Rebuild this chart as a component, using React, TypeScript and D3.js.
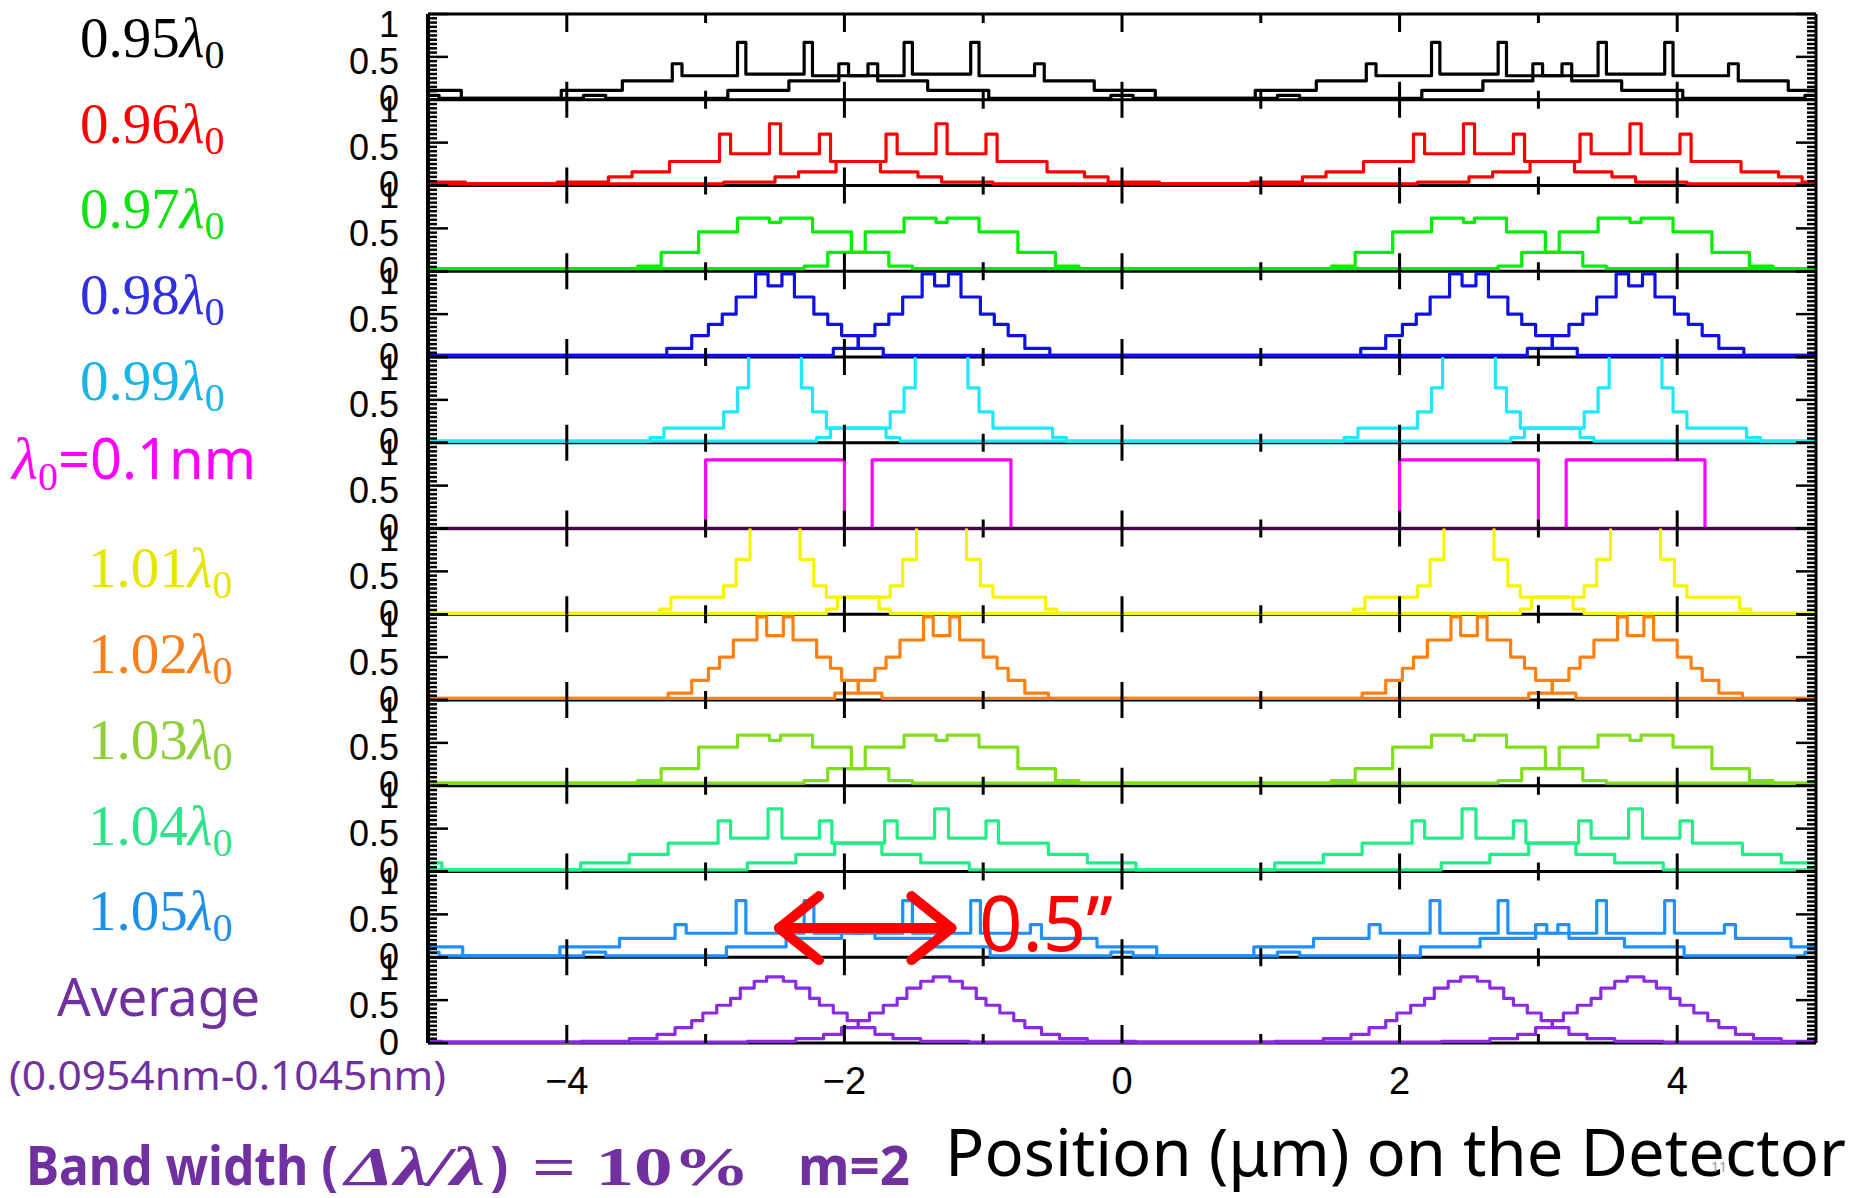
import React from "react";
import * as d3 from "d3";

// half profiles of one slit image: [outer edge of step (um from slit centre), level]
const prof095 = [[0.21, 0.3], [0.27, 0.67], [0.67, 0.28], [0.74, 0.42], [1.1, 0.22], [1.54, 0.11], [2.42, 0.015], [2.5, 0.05]];
const prof096 = [[0.04, 0.72], [0.32, 0.37], [0.4, 0.6], [0.76, 0.28], [1.03, 0.16], [1.2, 0.1], [1.57, 0.04], [2.5, 0.02]];
const prof097 = [[0.04, 0.57], [0.27, 0.62], [0.55, 0.46], [0.82, 0.22], [0.99, 0.06], [2.5, 0.03]];
const prof098 = [[0.05, 0.83], [0.14, 0.97], [0.28, 0.7], [0.38, 0.5], [0.48, 0.38], [0.6, 0.25], [0.78, 0.1], [2.5, 0.02]];
const prof099 = [[0.19, 1.5], [0.27, 0.64], [0.37, 0.36], [0.8, 0.17], [0.9, 0.06], [2.5, 0.02]];
const prof100 = [[0.5, 0.8], [2.5, 0.0]];
const prof101 = [[0.18, 1.5], [0.28, 0.64], [0.37, 0.33], [0.75, 0.2], [0.83, 0.06], [2.5, 0.01]];
const prof102 = [[0.06, 0.75], [0.13, 0.97], [0.3, 0.7], [0.4, 0.5], [0.48, 0.37], [0.6, 0.23], [0.77, 0.08], [2.5, 0.02]];
const prof103 = [[0.04, 0.53], [0.27, 0.59], [0.55, 0.45], [0.82, 0.2], [0.99, 0.06], [2.5, 0.03]];
const prof104 = [[0.05, 0.73], [0.32, 0.39], [0.41, 0.59], [0.77, 0.33], [1.05, 0.2], [1.4, 0.1], [2.5, 0.02]];
const prof105 = [[0.21, 0.28], [0.28, 0.66], [0.64, 0.28], [0.72, 0.38], [1.12, 0.22], [1.55, 0.12], [2.42, 0.015], [2.5, 0.06]];
const profAvg = [[0.06, 0.77], [0.15, 0.72], [0.25, 0.64], [0.32, 0.52], [0.42, 0.44], [0.52, 0.35], [0.6, 0.26], [0.72, 0.18], [0.85, 0.1], [1.05, 0.05], [1.4, 0.02], [2.5, 0.01]];

const profiles = [prof095, prof096, prof097, prof098, prof099, prof100, prof101, prof102, prof103, prof104, prof105, profAvg];
const lineColors = ["#000000", "#ff0000", "#00ee00", "#1010e6", "#1ee8fa", "#ff00ff", "#f5f500", "#ff8010", "#80e018", "#22ee88", "#1e90ff", "#8a2be2"];

// slit image centres (period 5 um)
const slitA = [-7.5, -2.5, 2.5, 7.5];
const slitB = [-6.3, -1.3, 3.7, 8.7];

const lamCoefs = ["0.95", "0.96", "0.97", "0.98", "0.99"];
const lamCoefs2 = ["1.01", "1.02", "1.03", "1.04", "1.05"];
const labelColors1 = ["#000000", "#ff0000", "#11e011", "#3030dd", "#19b4e8"];
const labelColors2 = ["#e6e600", "#f5801e", "#8fcf3c", "#2de38a", "#1e8fe6"];

const xTickLabels = [-4, -2, 0, 2, 4];
const xMinor = [-4, -3, -2, -1, 0, 1, 2, 3, 4];
const yTickLabels = [0, 0.5, 1];

const W = 1853, H = 1198;
const left = 428, right = 1816, top = 14, panelH = 85.75;
const nPanels = profiles.length;

function stepPoints(prof: number[][], centres: number[]) {
  const segs: number[][] = [];
  centres.forEach((c) => {
    let d0 = 0;
    prof.forEach(([d1, v]) => {
      segs.push([c - d1, c - d0, v]);
      segs.push([c + d0, c + d1, v]);
      d0 = d1;
    });
  });
  segs.sort((a, b) => a[0] - b[0]);
  const pts: number[][] = [];
  segs.forEach(([a, b, v]) => {
    const lo = Math.max(a, -5), hi = Math.min(b, 5);
    if (hi <= lo) return;
    pts.push([lo, v], [hi, v]);
  });
  return pts;
}

const serif = "'Liberation Serif', 'DejaVu Serif', serif";
const sans = "'Noto Sans', 'Open Sans', sans-serif";
const helv = "'Liberation Sans', Arial, sans-serif";

function LamLabel({ coef, color, x, y }: any) {
  return (
    <text x={x} y={y} fill={color} fontFamily={serif} fontSize={57}>
      {coef}
      <tspan fontStyle="italic">λ</tspan>
      <tspan fontSize={40} dy={11}>0</tspan>
    </text>
  );
}

// small vertical nudges of the IDL-style tick labels
const labelShift: Record<string, number> = { "0": -1, "0.5": 5, "1": 10 };

export default function App() {
  const x = d3.scaleLinear().domain([-5, 5]).range([left, right]);
  const yTicksAll = d3.range(0, 1.0001, 0.05);

  const panels = profiles.map((prof, i) => {
    const y = d3.scaleLinear().domain([0, 1]).range([top + (i + 1) * panelH, top + i * panelH]);
    const line = d3.line<number[]>().x((d) => x(d[0])).y((d) => y(d[1]));
    const pa = stepPoints(prof, slitA);
    const pb = stepPoints(prof, slitB);
    const y0 = y(0), y1 = y(1);
    return (
      <g key={i}>
        <clipPath id={`clip${i}`}>
          <rect x={left} y={y1} width={right - left} height={y0 - y1 + 2} />
        </clipPath>
        <line x1={left} x2={right} y1={y0} y2={y0} stroke="#000" strokeWidth={3} />
        <g clipPath={`url(#clip${i})`}>
          <path d={line(pb) || ""} fill="none" stroke={lineColors[i]} strokeWidth={3.2} strokeLinejoin="round" />
          <path d={line(pa) || ""} fill="none" stroke={lineColors[i]} strokeWidth={3.2} strokeLinejoin="round" />
        </g>
        {i === 5 && <line x1={left} x2={right} y1={y0} y2={y0} stroke="#000" strokeOpacity={0.7} strokeWidth={3.4} />}
        {yTicksAll.map((v, k) => {
          const major = k % 10 === 0;
          const len = major ? 20 : 9;
          return (
            <g key={k}>
              <line x1={left} x2={left + len} y1={y(v)} y2={y(v)} stroke="#000" strokeWidth={2.5} />
              <line x1={right} x2={right - len} y1={y(v)} y2={y(v)} stroke="#000" strokeWidth={2.5} />
            </g>
          );
        })}
        {xMinor.map((t) => {
          const len = t % 2 === 0 ? 18 : 9;
          return (
            <g key={t}>
              <line x1={x(t)} x2={x(t)} y1={y1} y2={y1 + len} stroke="#000" strokeWidth={3} />
              <line x1={x(t)} x2={x(t)} y1={y0} y2={y0 - len} stroke="#000" strokeWidth={3} />
            </g>
          );
        })}
        {yTickLabels.map((v) => (
          <text key={v} x={399} y={y(v) + labelShift[String(v)]} dominantBaseline="central" textAnchor="end" fontFamily={helv} fontSize={36} fill="#000">
            {v}
          </text>
        ))}
      </g>
    );
  });

  // annotation arrow in the 1.05 panel
  const y11 = d3.scaleLinear().domain([0, 1]).range([top + 11 * panelH, top + 10 * panelH]);
  const ax0 = x(-2.5), ax1 = x(-1.2), ay = y11(0.34);

  return (
    <svg width={W} height={H} style={{ position: "absolute", left: 0, top: 0, display: "block", background: "#fff" }}>
      {panels}
      <line x1={left} x2={right} y1={top} y2={top} stroke="#000" strokeWidth={3} />
      <line x1={left} x2={left} y1={top} y2={top + nPanels * panelH} stroke="#000" strokeWidth={4} />
      <line x1={right} x2={right} y1={top} y2={top + nPanels * panelH} stroke="#000" strokeWidth={3} />
      {xTickLabels.map((t) => (
        <text key={t} x={x(t)} y={1094} textAnchor="middle" fontFamily={helv} fontSize={38} fill="#000">
          {t < 0 ? `\u2212${-t}` : t}
        </text>
      ))}

      {lamCoefs.map((c, i) => (
        <LamLabel key={c} coef={c} color={labelColors1[i]} x={80} y={top + (i + 0.5) * panelH} />
      ))}
      <text x={12} y={479} fill="#ff00ff" fontFamily={sans} fontSize={56}>
        <tspan fontFamily={serif} fontStyle="italic" fontSize={60}>λ</tspan>
        <tspan fontFamily={serif} fontSize={40} dy={11}>0</tspan>
        <tspan dy={-11}>=0.1nm</tspan>
      </text>
      {lamCoefs2.map((c, i) => (
        <LamLabel key={c} coef={c} color={labelColors2[i]} x={88} y={top + (i + 6.5) * panelH + 16} />
      ))}
      <text x={57} y={1016} fill="#7030a0" fontFamily={sans} fontSize={52} textLength={203} lengthAdjust="spacingAndGlyphs">
        Average
      </text>
      <text x={9} y={1090} fill="#7030a0" fontFamily={sans} fontSize={40} textLength={437} lengthAdjust="spacingAndGlyphs">
        (0.0954nm-0.1045nm)
      </text>

      <g fill="#7030a0" fontSize={54} fontWeight="bold">
        <text x={26} y={1185} fontFamily={sans} textLength={312} lengthAdjust="spacingAndGlyphs">Band width (</text>
        <text x={345} y={1185} fontFamily={serif} fontStyle="italic" textLength={140} lengthAdjust="spacingAndGlyphs">Δλ/λ</text>
        <text x={490} y={1185} fontFamily={sans}>)</text>
        <text x={532} y={1185} fontFamily={serif} textLength={218} lengthAdjust="spacingAndGlyphs">= 10%</text>
        <text x={798} y={1185} fontFamily={sans} textLength={112} lengthAdjust="spacingAndGlyphs">m=2</text>
      </g>
      <text x={945} y={1176} fill="#000" fontFamily={sans} fontSize={66} textLength={901} lengthAdjust="spacingAndGlyphs">
        Position (μm) on the Detector
      </text>
      <text x={1711} y={1172} fill="#999" fontFamily={sans} fontSize={14}>11</text>

      <g stroke="#ff0000" strokeWidth={10} strokeLinecap="round" strokeLinejoin="round" fill="none">
        <line x1={ax0 + 4} x2={ax1 - 4} y1={ay} y2={ay} />
        <path d={`M${ax0 + 44},${ay - 32} L${ax0 + 4},${ay} L${ax0 + 44},${ay + 32}`} />
        <path d={`M${ax1 - 44},${ay - 32} L${ax1 - 4},${ay} L${ax1 - 44},${ay + 32}`} />
      </g>
      <text x={979} y={951} fill="#ff0000" fontFamily={sans} fontSize={76}>0.5’’</text>
    </svg>
  );
}
